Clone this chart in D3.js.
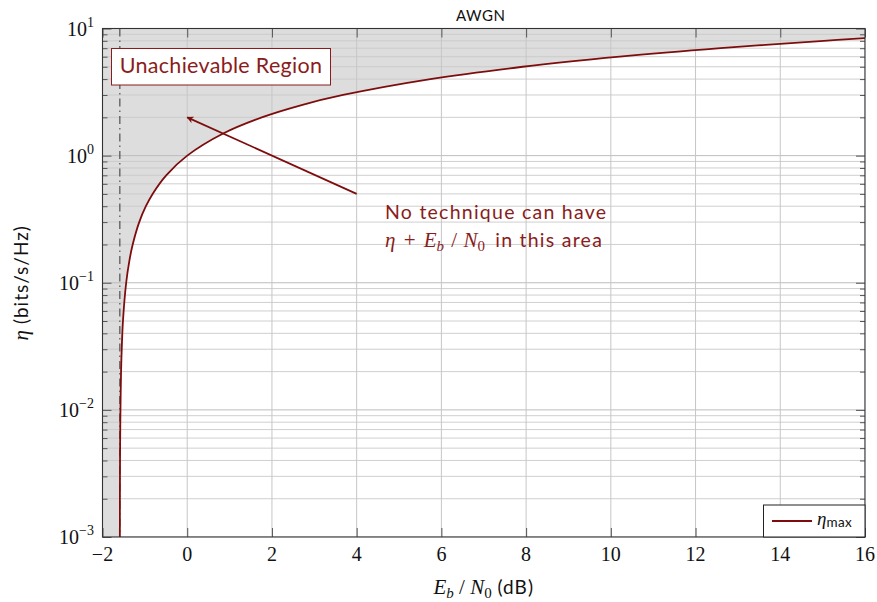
<!DOCTYPE html>
<html><head><meta charset="utf-8">
<script src="https://cdn.jsdelivr.net/npm/d3@7"></script>
<style>
html,body{margin:0;padding:0;background:#fff;}
svg{display:block;}
</style>
</head><body>
<svg id="chart" width="877" height="602"></svg>
<script>
// ---- data ----
const etaValues  = [0.001, 0.002, 0.005, 0.01, 0.02, 0.03, 0.05, 0.1, 0.15, 0.2, 0.3, 0.4, 0.5, 0.7, 1, 1.5, 2, 2.5, 3, 4, 5, 6, 7, 8, 8.4];
const ebn0Values = [-1.59, -1.589, -1.585, -1.576, -1.562, -1.546, -1.517, -1.441, -1.364, -1.287, -1.133, -0.976, -0.817, -0.496, 0, 0.86, 1.76, 2.70, 3.68, 5.74, 7.92, 10.21, 12.59, 15.03, 16.03];
const shannonLimit = -1.59;
const xTicks = [-2, 0, 2, 4, 6, 8, 10, 12, 14, 16];
const yDecades = [-3, -2, -1, 0, 1];
const arrowFrom = [4, 0.5];
const arrowTo = [0, 2];
const titleText = "AWGN";
const boxText = "Unachievable Region";
const legendLabel = "max";

// ---- layout ----
const L = 102.5, R = 865, T = 28.5, B = 537;
const svg = d3.select("#chart");
const x = d3.scaleLinear().domain([-2, 16]).range([L, R]);
const y = d3.scaleLog().domain([1e-3, 1e1]).range([B, T]);
const red = "#7d0d0d";
const textRed = "#8a1c1c";

const defs = svg.append("defs");
defs.append("clipPath").attr("id", "clip").append("rect")
  .attr("x", L).attr("y", T).attr("width", R - L).attr("height", B - T);
defs.append("marker").attr("id", "arrow").attr("viewBox", "0 0 10 10")
  .attr("refX", 9).attr("refY", 5).attr("markerWidth", 7).attr("markerHeight", 7)
  .attr("markerUnits", "userSpaceOnUse").attr("orient", "auto")
  .append("path").attr("d", "M0,0 L10,5 L0,10 L3,5 Z").attr("fill", red);

const pts = etaValues.map((e, i) => [ebn0Values[i], e]);
const line = d3.line().x(d => x(d[0])).y(d => y(d[1])).curve(d3.curveCatmullRom);

const g = svg.append("g").attr("clip-path", "url(#clip)");
// fill unachievable region
const curvePath = line(pts);
const last = pts[pts.length - 1];
g.append("path")
  .attr("d", curvePath + `L${x(last[0])},${y(10) - 5}L${x(-2) - 5},${y(10) - 5}L${x(-2) - 5},${y(1e-3) + 5}Z`)
  .attr("fill", "#dddddd").attr("stroke", "none");

// grid
const minorVals = [];
yDecades.slice(0, -1).forEach(d => { for (let k = 2; k <= 9; k++) minorVals.push(k * Math.pow(10, d)); });
const majorVals = yDecades.map(d => Math.pow(10, d));
g.selectAll(".ymin").data(minorVals).enter().append("line")
  .attr("x1", L).attr("x2", R).attr("y1", d => y(d)).attr("y2", d => y(d))
  .attr("stroke", "#c9c9c9").attr("stroke-width", 0.9);
g.selectAll(".ymaj").data(majorVals).enter().append("line")
  .attr("x1", L).attr("x2", R).attr("y1", d => y(d)).attr("y2", d => y(d))
  .attr("stroke", "#bdbdbd").attr("stroke-width", 1);
g.selectAll(".xg").data(xTicks).enter().append("line")
  .attr("x1", d => x(d)).attr("x2", d => x(d)).attr("y1", T).attr("y2", B)
  .attr("stroke", "#c6c6c6").attr("stroke-width", 1);

// dash-dot Shannon limit
g.append("line").attr("x1", x(shannonLimit)).attr("x2", x(shannonLimit))
  .attr("y1", T).attr("y2", B).attr("stroke", "#333").attr("stroke-width", 1)
  .attr("stroke-dasharray", "8,4,1.5,4");

// curve
g.append("path").attr("d", curvePath).attr("fill", "none")
  .attr("stroke", red).attr("stroke-width", 1.8);

// ticks (inward) via axes
const tickCol = "#555";
function styleAxis(sel){ sel.select(".domain").remove(); sel.selectAll("line").attr("stroke", tickCol); sel.selectAll("text").remove(); }
svg.append("g").attr("transform", `translate(0,${B})`)
  .call(d3.axisBottom(x).tickValues(xTicks).tickSize(-9)).call(styleAxis);
svg.append("g").attr("transform", `translate(0,${T})`)
  .call(d3.axisTop(x).tickValues(xTicks).tickSize(-9)).call(styleAxis);
svg.append("g").attr("transform", `translate(${L},0)`)
  .call(d3.axisLeft(y).tickValues(majorVals).tickSize(-9)).call(styleAxis);
svg.append("g").attr("transform", `translate(${L},0)`)
  .call(d3.axisLeft(y).tickValues(minorVals).tickSize(-5)).call(styleAxis);
svg.append("g").attr("transform", `translate(${R},0)`)
  .call(d3.axisRight(y).tickValues(majorVals).tickSize(-9)).call(styleAxis);
svg.append("g").attr("transform", `translate(${R},0)`)
  .call(d3.axisRight(y).tickValues(minorVals).tickSize(-5)).call(styleAxis);

// frame
svg.append("rect").attr("x", L).attr("y", T).attr("width", R - L).attr("height", B - T)
  .attr("fill", "none").attr("stroke", "#333").attr("stroke-width", 1.1);

// tick labels
const serif = "'Liberation Serif', 'DejaVu Serif', serif";
const sans = "Lato, 'Open Sans', sans-serif";
svg.selectAll(".xl").data(xTicks).enter().append("text")
  .attr("x", d => x(d)).attr("y", 561).attr("text-anchor", "middle")
  .attr("font-family", serif).attr("font-size", 20).attr("fill", "#111")
  .text(d => d < 0 ? "\u2212" + Math.abs(d) : d);
yDecades.forEach(d => {
  const t = svg.append("text").attr("x", 94).attr("y", y(Math.pow(10, d)) + 7)
    .attr("text-anchor", "end").attr("font-family", serif).attr("font-size", 20).attr("fill", "#111");
  t.append("tspan").text("10");
  t.append("tspan").attr("dy", -9).attr("font-size", 14).text(d < 0 ? "\u2212" + Math.abs(d) : d);
});

// title
svg.append("text").attr("x", (L + R) / 2 - 3).attr("y", 21).attr("text-anchor", "middle")
  .attr("font-family", sans).attr("font-size", 15).attr("letter-spacing", 0.6).attr("fill", "#111").text(titleText);

// axis labels
const xl = svg.append("text").attr("x", (L + R) / 2).attr("y", 594).attr("text-anchor", "middle")
  .attr("font-size", 21).attr("fill", "#111");
xl.append("tspan").attr("font-family", serif).attr("font-style", "italic").text("E");
xl.append("tspan").attr("font-family", serif).attr("font-style", "italic").attr("font-size", 15).attr("dy", 4).text("b");
xl.append("tspan").attr("font-family", serif).attr("dy", -4).text(" / ");
xl.append("tspan").attr("font-family", serif).attr("font-style", "italic").text("N");
xl.append("tspan").attr("font-family", serif).attr("font-size", 15).attr("dy", 4).text("0");
xl.append("tspan").attr("font-family", sans).attr("font-size", 19).attr("letter-spacing", 1).attr("dy", -4).text(" (dB)");

const yl = svg.append("text").attr("transform", `translate(28,${(T + B) / 2}) rotate(-90)`)
  .attr("text-anchor", "middle").attr("font-size", 19).attr("fill", "#111");
yl.append("tspan").attr("font-family", serif).attr("font-style", "italic").attr("font-size", 21).text("\u03b7");
yl.append("tspan").attr("font-family", sans).attr("letter-spacing", 1).text(" (bits/s/Hz)");

// Unachievable region box
svg.append("rect").attr("x", 111.5).attr("y", 48.5).attr("width", 219).attr("height", 36.5)
  .attr("fill", "#fff").attr("stroke", textRed).attr("stroke-width", 1);
svg.append("text").attr("x", 221).attr("y", 73).attr("text-anchor", "middle")
  .attr("font-family", sans).attr("font-size", 21.5).attr("letter-spacing", 0.3).attr("fill", textRed).text(boxText);

// annotation arrow
svg.append("line").attr("x1", x(arrowFrom[0])).attr("y1", y(arrowFrom[1]))
  .attr("x2", x(arrowTo[0])).attr("y2", y(arrowTo[1]))
  .attr("stroke", red).attr("stroke-width", 1.7).attr("marker-end", "url(#arrow)");

svg.append("text").attr("x", 385).attr("y", 219)
  .attr("font-family", sans).attr("font-size", 19.5).attr("letter-spacing", 1.25).attr("fill", textRed).text("No technique can have");
const a2 = svg.append("text").attr("x", 385).attr("y", 247).attr("font-size", 21).attr("fill", textRed);
a2.append("tspan").attr("font-family", serif).attr("font-style", "italic").text("\u03b7");
a2.append("tspan").attr("font-family", serif).attr("dx", 3).text(" + ");
a2.append("tspan").attr("font-family", serif).attr("font-style", "italic").attr("dx", 3).text("E");
a2.append("tspan").attr("font-family", serif).attr("font-style", "italic").attr("font-size", 15).attr("dy", 4).text("b");
a2.append("tspan").attr("font-family", serif).attr("dy", -4).attr("dx", 2).text(" / ");
a2.append("tspan").attr("font-family", serif).attr("font-style", "italic").attr("dx", 1).text("N");
a2.append("tspan").attr("font-family", serif).attr("font-size", 15).attr("dy", 4).text("0");
a2.append("tspan").attr("font-family", sans).attr("font-size", 19.5).attr("letter-spacing", 1.25).attr("dy", -4).attr("dx", 4).text(" in this area");

// legend
svg.append("rect").attr("x", 763.5).attr("y", 505).attr("width", 101.5).attr("height", 32)
  .attr("fill", "#fff").attr("stroke", "#222").attr("stroke-width", 1);
svg.append("line").attr("x1", 772).attr("x2", 812).attr("y1", 521).attr("y2", 521)
  .attr("stroke", red).attr("stroke-width", 1.8);
const lg = svg.append("text").attr("x", 817).attr("y", 525).attr("fill", "#111");
lg.append("tspan").attr("font-family", serif).attr("font-style", "italic").attr("font-size", 19).text("\u03b7");
lg.append("tspan").attr("font-family", sans).attr("font-size", 13.5).attr("letter-spacing", 0.4).attr("dy", 2).text(legendLabel);
</script>
</body></html>
